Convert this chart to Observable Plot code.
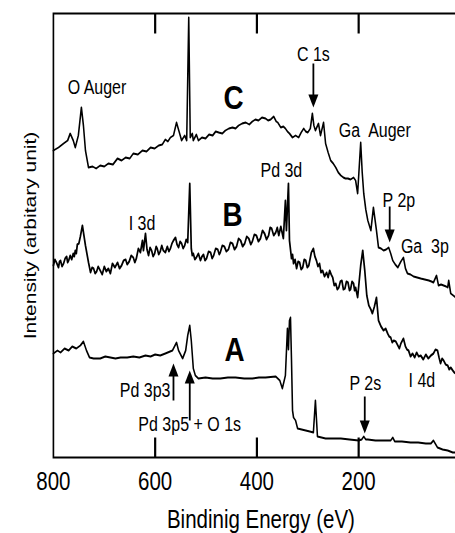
<!DOCTYPE html>
<html>
<head>
<meta charset="utf-8">
<script src="https://cdn.jsdelivr.net/npm/d3@7"></script>
<script src="https://cdn.jsdelivr.net/npm/@observablehq/plot@0.6"></script>
<style>
  html, body { margin: 0; padding: 0; background: #fff; overflow: hidden; width: 455px; height: 533px; }
  #chart { width: 455px; height: 533px; overflow: hidden; }
  #chart svg { max-width: none !important; transform: scaleX(0.82); transform-origin: 0 0; display: block; }
  svg text { white-space: pre; }
</style>
</head>
<body>
<div id="chart"></div>
<script>
// Binding energy (eV) vs intensity (arbitrary units)
const curveC = [
  [800,307],[790,310],[780,314],[772,317],[767,324],[761,317],[757,310],[751,322],[745,350],[741,332],
  [737,307],[731,290],[723,291],[716,289],[708,292],[700,291],[692,294],[683,293],[674,299],[666,297],
  [658,300],[650,299],[643,304],[634,303],[625,307],[617,306],[609,310],[601,309],[593,312],[586,313],
  [580,318],[575,316],[570,320],[564,322],[558,335],[553,326],[548,317],[542,322],[538,317],[534,440],
  [531,320],[527,324],[525,317],[519,323],[515,317],[508,320],[501,319],[494,323],[487,322],[481,326],
  [475,325],[468,324],[462,327],[455,329],[448,330],[442,329],[436,332],[429,334],[422,335],[415,333],
  [409,336],[403,338],[397,337],[390,340],[383,339],[378,337],[373,338],[367,341],[362,336],[359,335],
  [353,330],[348,331],[344,329],[340,326],[336,324],[333,322],[330,320],[324,322],[318,320],[313,325],
  [308,329],[304,326],[300,325],[295,329],[291,344],[288,332],[285,327],[279,334],[275,322],[269,335],
  [265,314],[260,305],[255,297],[250,294],[245,290],[240,285],[235,282],[230,280],[226,279],[221,279],
  [216,278],[210,280],[206,277],[202,264],[196,315],[193,285],[190,264],[186,248],[182,237],[176,227],
  [171,250],[165,227],[161,210],[156,209],[151,207],[146,208],[141,210],[137,204],[133,197],[128,193],
  [123,190],[117,196],[112,200],[108,189],[104,184],[98,183],[92,181],[85,180],[78,179],[70,178],
  [62,177],[57,176],[53,175],[47,182],[43,172],[38,173],[33,172],[28,171],[25,170],[23,177],
  [19,164],[14,162],[9,160],[0,157]
];

const curveB = [
  [800,192],[797,198],[794,195],[790,190],[788,196],[786,197],[783,191],[780,194],[777,199],[774,201],
  [772,195],[770,197],[767,202],[764,198],[761,204],[759,201],[757,207],[755,204],[753,213],[750,214],
  [747,221],[743,232],[737,212],[731,195],[727,185],[724,190],[721,189],[718,184],[715,186],[712,191],
  [708,187],[704,183],[700,191],[696,186],[692,189],[688,184],[684,194],[679,190],[674,195],[670,189],
  [666,192],[662,197],[658,198],[655,193],[651,196],[647,202],[643,200],[640,195],[637,199],[633,209],
  [629,205],[625,217],[623,207],[619,224],[616,208],[613,202],[610,210],[607,207],[604,201],[601,204],
  [598,211],[596,209],[593,203],[590,206],[587,212],[584,207],[580,205],[576,211],[573,206],[570,209],
  [567,214],[564,217],[560,220],[557,213],[554,210],[551,216],[548,214],[545,209],[542,212],[539,218],
  [536,215],[532,274],[529,209],[527,202],[525,204],[522,198],[519,200],[515,204],[511,197],[508,201],
  [505,203],[502,197],[499,199],[495,206],[491,205],[488,199],[485,202],[481,209],[477,208],[474,203],
  [472,205],[468,212],[464,211],[460,206],[456,208],[452,215],[448,214],[444,208],[440,211],[436,219],
  [432,217],[428,211],[424,214],[420,221],[416,219],[412,213],[409,216],[405,223],[401,222],[397,216],
  [393,219],[389,227],[385,224],[381,218],[377,222],[374,230],[371,229],[367,222],[363,225],[360,230],
  [357,222],[353,231],[348,219],[344,257],[342,227],[338,274],[336,217],[332,199],[330,203],[328,194],
  [325,198],[322,189],[319,196],[316,195],[313,188],[310,190],[307,198],[304,197],[301,190],[298,192],
  [293,205],[289,209],[286,201],[283,197],[280,191],[277,194],[274,185],[271,187],[267,181],[263,185],
  [260,180],[257,187],[254,183],[251,180],[248,172],[245,174],[242,168],[239,170],[236,176],[233,177],
  [230,168],[227,169],[224,176],[221,175],[218,167],[216,168],[213,176],[210,174],[208,167],[206,170],
  [202,160],[196,192],[192,207],[188,187],[184,162],[180,152],[176,148],[173,144],[169,151],[165,160],
  [161,137],[156,131],[151,127],[147,129],[143,124],[140,121],[137,120],[134,115],[131,117],[127,116],
  [123,112],[120,109],[117,114],[112,119],[108,111],[105,108],[102,107],[98,101],[94,104],[90,100],
  [86,105],[82,101],[78,102],[73,98],[68,103],[63,99],[58,102],[53,104],[49,108],[45,107],
  [42,100],[39,94],[36,99],[33,97],[29,93],[25,92],[22,88],[19,90],[15,87],[12,85],[9,84],[0,81]
];

const curveA = [
  [800,104],[792,107],[786,105],[778,109],[770,107],[763,111],[755,109],[747,112],[741,116],[735,107],
  [729,100],[721,99],[708,99],[698,101],[688,100],[678,99],[668,100],[655,100],[643,101],[631,100],
  [619,102],[609,101],[600,103],[590,102],[580,104],[566,107],[558,115],[554,107],[546,99],[540,107],
  [536,122],[532,132],[529,117],[525,89],[521,82],[515,79],[501,80],[487,79],[472,79],[457,80],
  [442,80],[425,79],[409,79],[396,80],[383,80],[363,81],[355,77],[350,69],[344,82],[340,129],
  [338,108],[336,137],[334,140],[332,97],[330,47],[328,40],[324,37],[320,29],[312,28],[304,27],
  [296,26],[289,25],[285,57],[281,21],[273,20],[265,19],[250,19],[235,19],[218,18],[200,17],
  [194,18],[190,21],[186,18],[182,18],[167,17],[150,17],[137,17],[133,20],[129,16],[115,16],
  [98,15],[83,15],[68,14],[58,14],[53,17],[45,10],[35,8],[25,7],[15,5],[9,5],[0,4]
];

const energyTicks = [800, 600, 400, 200, 0];
const innerTicks = [600, 400, 200];
const energyDomain = [800, 0];
const intensityDomain = [0, 444];

const peakLabels = ["O Auger", "C 1s", "Ga  Auger", "Pd 3d", "I 3d", "P 2p", "Ga  3p", "Pd 3p3", "Pd 3p5 + O 1s", "P 2s", "I 4d"];
const peakLabelE = [772, 289, 239, 393, 652, 153, 117, 570, 633, 187, 102];
const peakLabelI = [370, 403, 327, 287, 233.5, 257, 211, 67, 33, 74, 77];
const peakLabelAnchor = ["start", "middle", "start", "start", "start", "start", "start", "end", "start", "middle", "start"];

const seriesNames = ["C", "B", "A"];
const seriesNameE = [446, 448, 444];
const seriesNameI = [359.5, 242, 107];

// arrows: energy, tail intensity, tip intensity
const arrowE = [289, 139, 564, 532, 188];
const arrowTail = [394, 251, 57, 37, 61];
const arrowTip = [350, 215, 94, 87, 24];

const xLabel = "Bindinig Energy (eV)";
const yLabel = "Intensity (arbitary unit)";

// The original figure is squeezed horizontally; the SVG is drawn wider and scaled by this factor.
const squeeze = 0.82;
const fontStack = '"Liberation Sans", Arial, Helvetica, sans-serif';

const labels = peakLabels.map((t, i) => ({t, E: peakLabelE[i], I: peakLabelI[i], a: peakLabelAnchor[i]}));
const names = seriesNames.map((t, i) => ({t, E: seriesNameE[i], I: seriesNameI[i]}));
const arrows = arrowE.map((E, i) => ({E, tail: arrowTail[i], tip: arrowTip[i], down: arrowTip[i] < arrowTail[i]}));

const hw = 5 / squeeze;
const headDown = { draw(ctx) { ctx.moveTo(0, 0); ctx.lineTo(-hw, -13); ctx.lineTo(hw, -13); ctx.closePath(); } };
const headUp = { draw(ctx) { ctx.moveTo(0, 0); ctx.lineTo(-hw, 13); ctx.lineTo(hw, 13); ctx.closePath(); } };

const tickLen = 20;
const yTop = intensityDomain[1];
const yBot = intensityDomain[0];
const tickSegs = innerTicks.flatMap(E => [
  {E, from: yTop, to: yTop - tickLen},
  {E, from: yBot, to: yBot + tickLen}
]);

const textMarks = ["start", "middle", "end"].map(a =>
  Plot.text(labels.filter(d => d.a === a), {x: "E", y: "I", text: "t", textAnchor: a, fontSize: 19.5, fill: "black", lineAnchor: "middle"})
);

const chart = Plot.plot({
  width: 573,
  height: 533,
  marginLeft: 53 / squeeze,
  marginRight: 573 - 460 / squeeze,
  marginTop: 13,
  marginBottom: 76,
  style: {fontFamily: fontStack, fontSize: "25px", color: "black", background: "white"},
  x: {domain: energyDomain, ticks: energyTicks, tickSize: 0, tickPadding: 15, label: null, tickFormat: d => String(d)},
  y: {domain: intensityDomain, axis: null},
  marks: [
    Plot.link(tickSegs, {x1: "E", x2: "E", y1: "from", y2: "to", stroke: "black", strokeWidth: 2.2 / squeeze}),
    Plot.line(curveA, {x: d => d[0], y: d => d[1], stroke: "black", strokeWidth: 1.9}),
    Plot.line(curveB, {x: d => d[0], y: d => d[1], stroke: "black", strokeWidth: 2.1}),
    Plot.line(curveC, {x: d => d[0], y: d => d[1], stroke: "black", strokeWidth: 1.9}),
    Plot.link(arrows, {x1: "E", x2: "E", y1: "tail", y2: d => d.tip + (d.down ? 6 : -6), stroke: "black", strokeWidth: 1.8 / squeeze}),
    Plot.dot(arrows.filter(d => d.down), {x: "E", y: "tip", symbol: headDown, fill: "black", stroke: null}),
    Plot.dot(arrows.filter(d => !d.down), {x: "E", y: "tip", symbol: headUp, fill: "black", stroke: null}),
    ...textMarks,
    Plot.text(names, {x: "E", y: "I", text: "t", fontSize: 34, fontWeight: "bold", fill: "black", lineAnchor: "middle"}),
    Plot.text([xLabel], {frameAnchor: "bottom", text: d => d, dy: 62, dx: 4 / squeeze, textAnchor: "middle", fontSize: 25, fill: "black", lineAnchor: "middle"}),
    Plot.text([yLabel], {frameAnchor: "left", text: d => d, dx: -23 / squeeze, rotate: -90, textAnchor: "middle", fontSize: 21, fill: "black", lineAnchor: "middle"}),
    Plot.frame({stroke: "black", strokeWidth: 2})
  ]
});
document.getElementById("chart").appendChild(chart);
</script>
</body>
</html>
